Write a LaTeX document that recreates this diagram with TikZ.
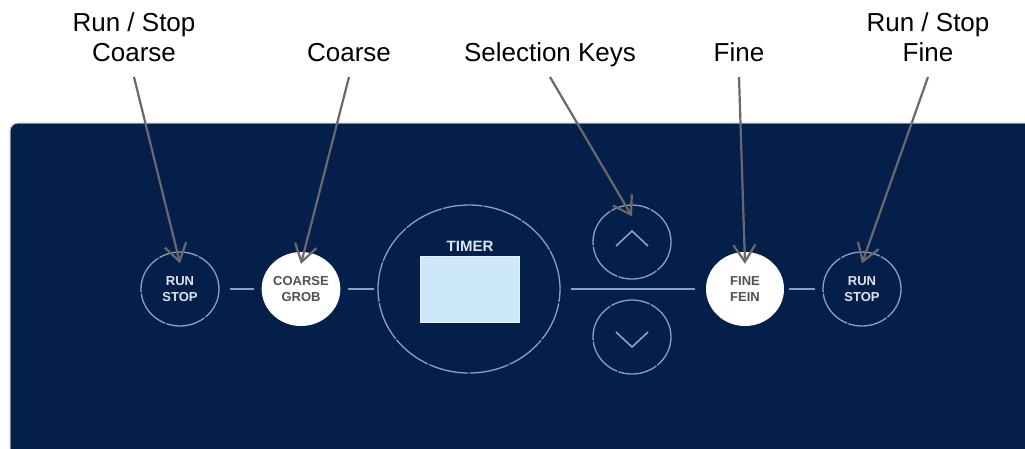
\documentclass[tikz,border=0pt]{standalone}
\usepackage{fontspec}
\setmainfont{Liberation Sans}
\usetikzlibrary{arrows.meta,shapes.geometric}
\definecolor{navy}{RGB}{3,31,74}
\definecolor{ringc}{RGB}{140,160,195}
\definecolor{callgray}{RGB}{105,105,105}
\definecolor{btnlight}{RGB}{222,228,238}
\definecolor{btndark}{RGB}{80,80,86}
\definecolor{disp}{RGB}{205,232,250}
\definecolor{dispedge}{RGB}{230,242,252}
\begin{document}
\begin{tikzpicture}[x=1pt,y=-1pt,
    btn/.style={ellipse,minimum width=78pt,minimum height=74pt,inner sep=0pt,align=center,
      font=\fontsize{13}{16}\selectfont\bfseries},
    ring/.style={draw=ringc,line width=1.3pt,dash pattern=on 40pt off 1.3pt},
    lit/.style={fill=white,text=btndark},
    link/.style={draw=ringc,line width=1.3pt,shorten <=7pt,shorten >=7pt},
    chev/.style={draw=ringc,line width=1.6pt},
    callout/.style={draw=callgray,line width=2.2pt,-{Straight Barb[length=17pt,width=22pt]}},
    tag/.style={font=\fontsize{26}{30}\selectfont,align=center,anchor=south,
      inner xsep=0pt,inner ysep=9pt,text depth=6pt}]
    \useasboundingbox (0,0) rectangle (1025,448);
    \fill[white] (0,0) rectangle (1025,448);
    % panel
    \draw[fill=navy,draw=gray!45,line width=1pt,rounded corners=8pt]
      (10,480) -- (10,123) -- (1050,123) -- (1050,480) -- cycle;
    % keys
    \node[btn,ring,text=btnlight] (rsc) at (180,289) {RUN\\STOP};
    \node[btn,lit] (crs) at (301,289) {COARSE\\GROB};
    \node[ellipse,ring,minimum width=182pt,minimum height=168pt] (tmr) at (469,289) {};
    \node[draw=dispedge,fill=disp,minimum width=99pt,minimum height=66pt,inner sep=0pt] (dsp) at (469.5,289) {};
    \node[anchor=base,text=btnlight,inner sep=0pt,font=\fontsize{15}{18}\selectfont\bfseries] (ttl) at (470,251) {TIMER};
    \node[btn,ring] (up) at (632,242) {};
    \node[btn,ring] (dn) at (632,337) {};
    \node[btn,lit] (fin) at (745,289) {FINE\\FEIN};
    \node[btn,ring,text=btnlight] (rsf) at (862,289) {RUN\\STOP};
    \draw[chev] ([shift={(-16,4)}]up.center) -- ([shift={(0,-11)}]up.center) -- ([shift={(16,4)}]up.center);
    \draw[chev] ([shift={(-16,-5)}]dn.center) -- ([shift={(0,10)}]dn.center) -- ([shift={(16,-5)}]dn.center);
    \draw[link,shorten <=10pt] (rsc) -- (crs);
    \draw[link,shorten >=3pt] (crs) -- (tmr);
    \draw[link,shorten <=10pt,shorten >=11pt] (tmr) -- (fin);
    \draw[link,shorten <=5pt] (fin) -- (rsf);
    % labels
    \node[tag] (trsc) at (134,77) {Run / Stop\\Coarse};
    \node[tag] (tcrs) at (349,77) {Coarse};
    \node[tag] (tsel) at (550,77) {Selection Keys};
    \node[tag] (tfin) at (739,77) {Fine};
    \node[tag] (trsf) at (928,77) {Run / Stop\\Fine};
    \foreach \f/\t in {trsc/rsc,tcrs/crs,tsel/up,tfin/fin,trsf/rsf}
    {
    \draw[callout] (\f.south) -- ([yshift=-12pt]\t.north);
    }
\end{tikzpicture}
\end{document}
